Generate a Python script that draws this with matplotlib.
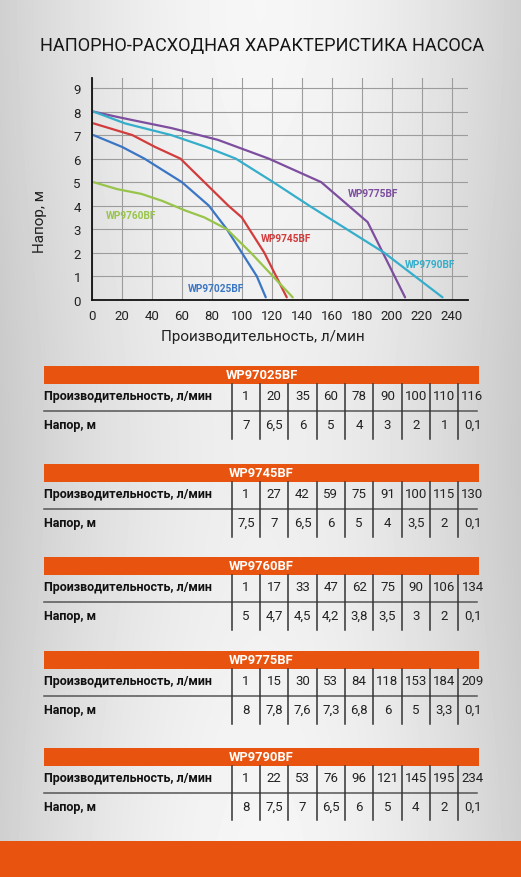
import numpy as np
import matplotlib.pyplot as plt
from matplotlib.patches import Rectangle

plt.rcParams['font.family'] = ['Roboto', 'DejaVu Sans']

W, H = 521, 878

title = "НАПОРНО-РАСХОДНАЯ ХАРАКТЕРИСТИКА НАСОСА"
xlabel = "Производительность, л/мин"
ylabel = "Напор, м"
row_flow = "Производительность, л/мин"
row_head = "Напор, м"

models = ["WP97025BF", "WP9745BF", "WP9760BF", "WP9775BF", "WP9790BF"]
flow_97025 = [1, 20, 35, 60, 78, 90, 100, 110, 116]
head_97025 = [7, 6.5, 6, 5, 4, 3, 2, 1, 0.1]
flow_9745 = [1, 27, 42, 59, 75, 91, 100, 115, 130]
head_9745 = [7.5, 7, 6.5, 6, 5, 4, 3.5, 2, 0.1]
flow_9760 = [1, 17, 33, 47, 62, 75, 90, 106, 134]
head_9760 = [5, 4.7, 4.5, 4.2, 3.8, 3.5, 3, 2, 0.1]
flow_9775 = [1, 15, 30, 53, 84, 118, 153, 184, 209]
head_9775 = [8, 7.8, 7.6, 7.3, 6.8, 6, 5, 3.3, 0.1]
flow_9790 = [1, 22, 53, 76, 96, 121, 145, 195, 234]
head_9790 = [8, 7.5, 7, 6.5, 6, 5, 4, 2, 0.1]

flows = [flow_97025, flow_9745, flow_9760, flow_9775, flow_9790]
heads = [head_97025, head_9745, head_9760, head_9775, head_9790]
colors = ["#3b76c4", "#d23c3c", "#98c44a", "#7d4e9f", "#34aecb"]
# label anchor (left, middle) in data units
label_pos = [(64, 0.5), (113, 2.62), (9, 3.62), (171, 4.55), (209, 1.52)]

orange = "#e8540f"

fig = plt.figure(figsize=(W / 100, H / 100), dpi=100)

# brushed-metal-ish background, also used as pixel canvas for tables
bg = fig.add_axes([0, 0, 1, 1])
bg.axis("off")
xx = np.linspace(-1, 1, W)
yy = np.linspace(0, 1, H)
shade = 0.965 - 0.15 * np.abs(xx) ** 1.8
img = shade[None, :] * (0.985 + 0.015 * np.cos(yy * 6.0)[:, None])
bg.imshow(img, cmap="gray", vmin=0, vmax=1, aspect="auto",
          extent=[0, W, H, 0], interpolation="bilinear")
bg.set_xlim(0, W)
bg.set_ylim(H, 0)

bg.text(W / 2 + 2, 46, title, ha="center", va="center", fontsize=13.1,
        fontweight="normal", color="#161616")

# chart
ax = fig.add_axes([92 / W, 1 - 300.7 / H, 376 / W, 221.7 / H])
ax.patch.set_alpha(0)
ax.set_xlim(0, 251)
ax.set_ylim(0, 9.43)
ax.set_xticks(range(0, 241, 20))
ax.set_yticks(range(0, 10))
ax.grid(color="#9c9c9c", lw=0.8)
ax.set_axisbelow(True)
ax.tick_params(length=0, labelsize=9.5, colors="#222222")
ax.tick_params(axis="y", pad=8)
ax.tick_params(axis="x", pad=7)
for s in ["top", "right"]:
    ax.spines[s].set_visible(False)
for s in ["left", "bottom"]:
    ax.spines[s].set_color("#111111")
    ax.spines[s].set_linewidth(1.3)

for f, h, c, name, (lx, ly) in zip(flows, heads, colors, models, label_pos):
    ax.plot(f, h, color=c, lw=1.6, solid_capstyle="round", clip_on=False)
    ax.text(lx, ly, name, color=c, fontsize=7.3, fontweight="bold",
            ha="left", va="center")

bg.text(263, 337, xlabel, ha="center", va="center", fontsize=11, color="#222222")
bg.text(40, 222, ylabel, ha="center", va="center", fontsize=11,
        rotation=90, color="#222222")

# tables
table_tops = [367, 465, 558, 652, 749]
col_x0 = 231.7
col_w = 28.33


def fmt(v):
    return str(v).replace(".", ",")


for top, name, f, h in zip(table_tops, models, flows, heads):
    bg.add_patch(Rectangle((44, top), 435, 17.5, color=orange, lw=0))
    bg.text(261.5, top + 9, name, ha="center", va="center", color="white",
            fontsize=9.4, fontweight="bold")
    base = top + 17.5
    bg.text(44, base + 12, row_flow, ha="left", va="center", fontsize=9.0,
            fontweight="bold", color="#111111")
    bg.text(44, base + 41, row_head, ha="left", va="center", fontsize=9.0,
            fontweight="bold", color="#111111")
    bg.plot([44, 477], [base + 27.5, base + 27.5], color="#555555", lw=1.1)
    for i in range(len(f)):
        x = col_x0 + col_w * i
        bg.plot([x, x], [base, base + 55], color="#333333", lw=1.1)
        cx = x + col_w / 2
        bg.text(cx, base + 12, fmt(f[i]), ha="center", va="center",
                fontsize=9.5, color="#222222")
        bg.text(cx, base + 41, fmt(h[i]), ha="center", va="center",
                fontsize=9.5, color="#222222")

bg.add_patch(Rectangle((0, 842), W, 36, color=orange, lw=0))

fig.savefig("out.png", dpi=100)
